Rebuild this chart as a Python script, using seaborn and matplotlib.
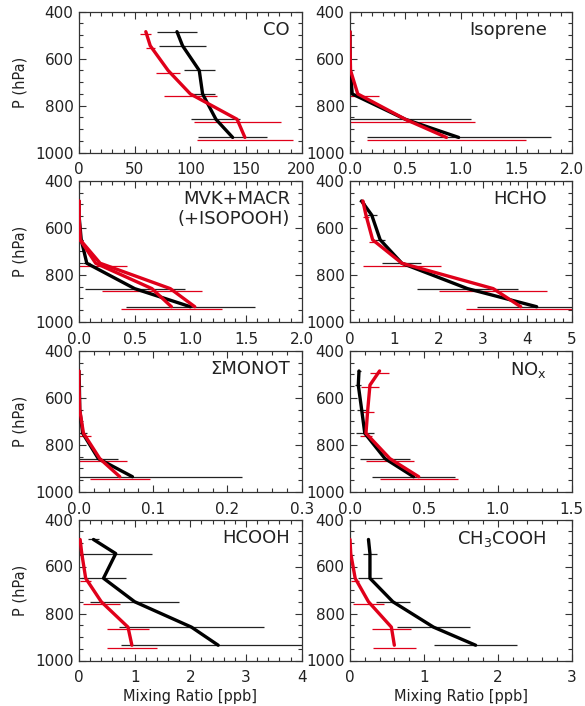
import matplotlib
matplotlib.use("Agg")
import matplotlib.pyplot as plt
from matplotlib.ticker import MultipleLocator, FormatStrFormatter
import seaborn as sns

sns.set_theme(style="ticks")
plt.rcParams['font.family'] = ['DejaVu Sans']
plt.rcParams['mathtext.default'] = 'regular'

# Pressure levels (hPa)
P = [485, 545, 650, 750, 858, 935]

# CO
co_obs = [88, 93, 108, 111, 123, 138]
co_obs_sd = [18, 21, 14, 11, 22, 31]
co_mod = [60, 64, 80, 100, 142, 149]
co_mod_sd = [5, 4, 11, 24, 39, 43]

# Isoprene
isop_obs = [0.0, 0.0, 0.003, 0.02, 0.5, 0.98]
isop_obs_sd = [0.0, 0.0, 0.005, 0.03, 0.59, 0.83]
isop_mod = [0.0, 0.0, 0.005, 0.07, 0.5, 0.87]
isop_mod_sd = [0.0, 0.0, 0.005, 0.19, 0.63, 0.72]

# MVK+MACR
mvk_obs = [0.0, 0.0, 0.02, 0.07, 0.5, 1.0]
mvk_obs_sd = [0.0, 0.0, 0.02, 0.03, 0.45, 0.58]
mvk_mod = [0.0, 0.0, 0.01, 0.15, 0.655, 0.83]
mvk_mod_sd = [0.0, 0.0, 0.01, 0.28, 0.45, 0.45]
mvk_mod_isopooh = [0.0, 0.0, 0.01, 0.19, 0.82, 1.04]

# HCHO
hcho_obs = [0.26, 0.49, 0.68, 1.17, 2.65, 4.21]
hcho_obs_sd = [0.05, 0.11, 0.12, 0.44, 1.13, 1.34]
hcho_mod = [0.29, 0.36, 0.51, 1.17, 3.23, 3.85]
hcho_mod_sd = [0.05, 0.06, 0.08, 0.88, 1.22, 1.23]

# Sum of monoterpenes
mono_obs = [0.0, 0.0005, 0.001, 0.005, 0.026, 0.072]
mono_obs_sd = [0.0, 0.0, 0.001, 0.006, 0.026, 0.147]
mono_mod = [0.0, 0.0, 0.001, 0.006, 0.028, 0.055]
mono_mod_sd = [0.0, 0.0, 0.001, 0.01, 0.037, 0.04]

# NOx
nox_obs = [0.061, 0.056, 0.079, 0.10, 0.237, 0.43]
nox_obs_sd = [0.015, 0.02, 0.03, 0.06, 0.166, 0.28]
nox_mod = [0.20, 0.135, 0.12, 0.108, 0.27, 0.465]
nox_mod_sd = [0.065, 0.062, 0.04, 0.043, 0.16, 0.263]

# HCOOH
hcooh_obs = [0.26, 0.66, 0.44, 1.0, 2.02, 2.5]
hcooh_obs_sd = [0.1, 0.66, 0.4, 0.8, 1.3, 1.75]
hcooh_mod = [0.02, 0.05, 0.12, 0.4, 0.88, 0.95]
hcooh_mod_sd = [0.01, 0.02, 0.1, 0.33, 0.38, 0.45]

# CH3COOH
ch3_obs = [0.25, 0.27, 0.27, 0.58, 1.13, 1.7]
ch3_obs_sd = [0.01, 0.09, 0.16, 0.23, 0.49, 0.56]
ch3_mod = [0.0, 0.01, 0.07, 0.25, 0.56, 0.6]
ch3_mod_sd = [0.0, 0.005, 0.05, 0.21, 0.26, 0.29]

labels = ["CO", "Isoprene", "MVK+MACR\n(+ISOPOOH)", "HCHO",
          "\u03a3MONOT", "NO$_x$", "HCOOH", "CH$_3$COOH"]
xmax = [200, 2.0, 2.0, 5, 0.3, 1.5, 4, 3]
xmajor = [50, 0.5, 0.5, 1, 0.1, 0.5, 1, 1]
xminor = [10, 0.1, 0.1, 0.2, 0.02, 0.1, 0.2, 0.2]
xfmt = ['%d', '%.1f', '%.1f', '%d', '%.1f', '%.1f', '%d', '%d']

panels = [
    (co_obs, co_obs_sd, co_mod, co_mod_sd, None),
    (isop_obs, isop_obs_sd, isop_mod, isop_mod_sd, None),
    (mvk_obs, mvk_obs_sd, mvk_mod, mvk_mod_sd, mvk_mod_isopooh),
    (hcho_obs, hcho_obs_sd, hcho_mod, hcho_mod_sd, None),
    (mono_obs, mono_obs_sd, mono_mod, mono_mod_sd, None),
    (nox_obs, nox_obs_sd, nox_mod, nox_mod_sd, None),
    (hcooh_obs, hcooh_obs_sd, hcooh_mod, hcooh_mod_sd, None),
    (ch3_obs, ch3_obs_sd, ch3_mod, ch3_mod_sd, None),
]

RED = '#e0001a'
BLACK = '#000000'
red_bar_offset = 10

W, H = 585, 706
fig = plt.figure(figsize=(W / 100, H / 100), dpi=100)
fig.patch.set_facecolor('white')

col_left = [79 / W, 350 / W]
col_width = [222.7 / W, 221.7 / W]
row_top = [11.7, 181.0, 351.0, 519.5]
ax_h = 141.0

for i, (obs, obs_sd, mod, mod_sd, extra) in enumerate(panels):
    r, c = divmod(i, 2)
    bottom = 1 - (row_top[r] + ax_h) / H
    ax = fig.add_axes([col_left[c], bottom, col_width[c], ax_h / H])
    ax.set_facecolor('white')

    ax.errorbar(obs, P, xerr=obs_sd, fmt='none', ecolor='#222222',
                elinewidth=0.9, capsize=0, zorder=2)
    ax.errorbar(mod, [p + red_bar_offset for p in P], xerr=mod_sd, fmt='none',
                ecolor=RED, elinewidth=0.9, capsize=0, zorder=2)
    sns.lineplot(x=obs, y=P, sort=False, estimator=None, color=BLACK,
                 linewidth=2.4, ax=ax, zorder=3)
    sns.lineplot(x=mod, y=P, sort=False, estimator=None, color=RED,
                 linewidth=2.4, ax=ax, zorder=4)
    if extra is not None:
        sns.lineplot(x=extra, y=P, sort=False, estimator=None, color=RED,
                     linewidth=2.4, ax=ax, zorder=4)

    ax.set_xlim(0, xmax[i])
    ax.set_ylim(1000, 400)
    ax.xaxis.set_major_locator(MultipleLocator(xmajor[i]))
    ax.xaxis.set_minor_locator(MultipleLocator(xminor[i]))
    ax.xaxis.set_major_formatter(FormatStrFormatter(xfmt[i]))
    ax.yaxis.set_major_locator(MultipleLocator(200))
    ax.yaxis.set_minor_locator(MultipleLocator(50))
    ax.tick_params(which='both', direction='in', top=True, right=True,
                   color='#333333', width=0.8)
    ax.tick_params(which='major', length=5, labelsize=11, labelcolor='#222222')
    ax.tick_params(which='minor', length=2.7)
    ax.tick_params(axis='x', which='major', pad=7)
    ax.tick_params(axis='y', which='major', pad=4)
    for s in ax.spines.values():
        s.set_color('#333333')
        s.set_linewidth(0.9)

    ax.set_xlabel('')
    ax.set_ylabel('')
    if c == 0:
        ax.set_ylabel('P (hPa)', fontsize=10.5, color='#222222')
        ax.yaxis.set_label_coords(-0.23, 0.5)
    if r == 3:
        ax.set_xlabel('Mixing Ratio [ppb]', fontsize=10.5, color='#222222')
        ax.xaxis.set_label_coords(0.5, -0.20)

    lx = 0.947 if c == 0 else 0.887
    ax.text(lx, 0.935, labels[i], transform=ax.transAxes, ha='right',
            va='top', fontsize=13, color='#222222', multialignment='right',
            linespacing=1.15)

fig.savefig('out.png', dpi=100, facecolor='white')
